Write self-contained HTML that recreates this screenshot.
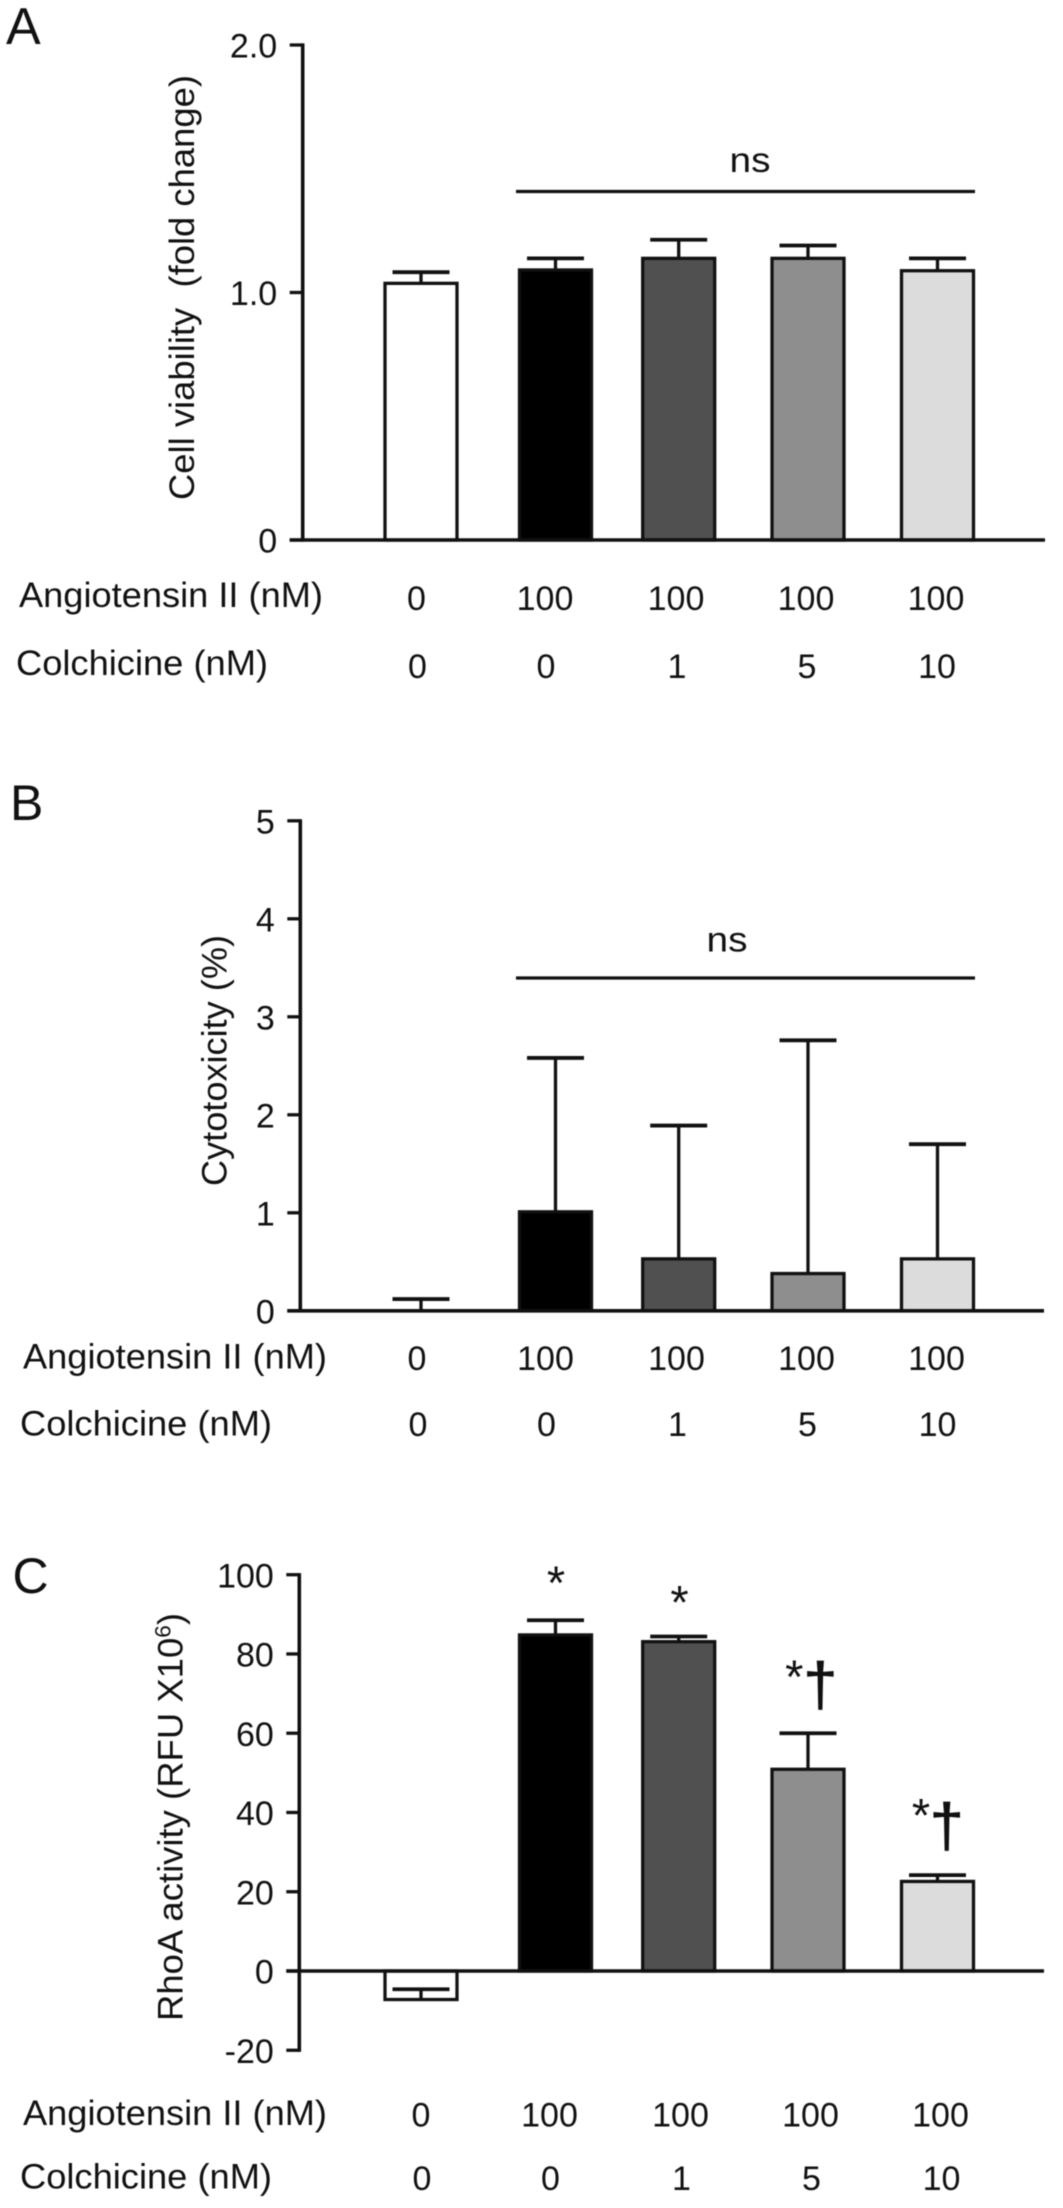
<!DOCTYPE html>
<html lang="en">
<head>
<meta charset="utf-8">
<title>Cell viability, cytotoxicity and RhoA activity</title>
<style>
html,body{margin:0;padding:0;background:#fff}
svg{display:block;filter:blur(.6px)}
text{font-family:"Liberation Sans",Arial,sans-serif;fill:#111}
</style>
</head>
<body>
<svg id="figure" xmlns="http://www.w3.org/2000/svg" width="1063" height="2208" viewBox="0 0 1063 2208"></svg>
<script>
// Shared categories
const angiotensinLabels = ["0", "100", "100", "100", "100"];
const colchicineLabels = ["0", "0", "1", "5", "10"];
const barFills = ["#ffffff", "#000000", "#505050", "#8e8e8e", "#dcdcdc"];

// Panel A
const viabilityValues = [1.037, 1.091, 1.138, 1.138, 1.088];
const viabilityErrors = [1.082, 1.138, 1.213, 1.190, 1.138];
const viabilityTicks = [0, 1, 2];
const viabilityTickLabels = ["0", "1.0", "2.0"];

// Panel B
const cytotoxicityValues = [0, 1.01, 0.53, 0.38, 0.53];
const cytotoxicityErrors = [0.12, 2.58, 1.89, 2.76, 1.70];
const cytotoxicityTicks = [0, 1, 2, 3, 4, 5];
const cytotoxicityTickLabels = ["0", "1", "2", "3", "4", "5"];

// Panel C
const rhoaValues = [-7.2, 84.8, 83.1, 50.9, 22.6];
const rhoaErrors = [-4.6, 88.5, 84.4, 60.0, 24.2];
const rhoaTicks = [-20, 0, 20, 40, 60, 80, 100];
const rhoaTickLabels = ["-20", "0", "20", "40", "60", "80", "100"];

const svg = document.getElementById("figure");
const NS = "http://www.w3.org/2000/svg";

function shape(tag, attrs, parent) {
  const el = document.createElementNS(NS, tag);
  for (const k in attrs) el.setAttribute(k, attrs[k]);
  (parent || svg).appendChild(el);
  return el;
}
function line(x1, y1, x2, y2, w, parent) {
  return shape("line", {x1, y1, x2, y2, stroke: "#111", "stroke-width": w || 3.3}, parent);
}
function label(str, x, y, size, anchor, len, parent) {
  const el = shape("text", {x, y, "font-size": size, "text-anchor": anchor || "middle"}, parent);
  el.textContent = str;
  if (len) {
    el.setAttribute("textLength", len);
    el.setAttribute("lengthAdjust", "spacingAndGlyphs");
  }
  return el;
}

// Horizontal layout of the five bars (axis function, shared by all panels)
function barCenter(i) {
  return [421, 555.5, 678.7, 808, 937.5][i];
}
function rowCenter(i, dx) {
  return [416.5, 545, 676, 806, 936][i] + dx;
}

function drawPanel(p) {
  const g = shape("g", {});
  
  

  const y = v => p.y0 + (v - p.base) * (p.yTop - p.y0) / (p.top - p.base);

  const letter = label(p.letter, p.letterX, p.letterY, p.letterSize, "start", null, g);
  
  

  // Bars
  p.values.forEach((v, i) => {
    const cx = barCenter(i);
    const rect = shape("rect", {
      x: cx - 36, y: Math.min(y(v), y(0)), width: 72, height: Math.abs(y(v) - y(0)),
      fill: barFills[i], stroke: "#111", "stroke-width": 3.3
    }, g);
    
    
  });

  // Error bars
  p.values.forEach((v, i) => {
    const cx = barCenter(i);
    const stem = line(cx, y(v), cx, y(p.errors[i]), 3.3, g);
    
    
    const cap = line(cx - 28.5, y(p.errors[i]), cx + 28.5, y(p.errors[i]), 3.8, g);
    
    
  });

  // Axes
  const yAxis = line(p.axisX, y(p.top) - 1.6, p.axisX, y(p.ticks[0]) + 1.6, 3.6, g);
  
  
  const xAxis = line(p.axisX - 13, y(0), p.axisRight, y(0), 3.6, g);
  
  

  // Ticks and tick labels
  p.ticks.forEach((t, i) => {
    const tick = line(p.axisX - 13, y(t), p.axisX, y(t), 3.3, g);
    
    
    const tl = label(p.tickLabels[i], p.axisX - 25.5, y(t) + 12.7, 34, "end", null, g);
    
    
  });

  // Y axis title
  const title = shape("text", {
    transform: `translate(${p.titleX},${p.titleY}) rotate(-90)`,
    x: 0, y: 0, "font-size": 35.5, "text-anchor": "middle",
    textLength: p.titleLen, lengthAdjust: "spacingAndGlyphs"
  }, g);
  
  
  title.textContent = p.title;
  if (p.titleSup) {
    const sup = shape("tspan", {dy: -12, "font-size": 22}, title);
    sup.textContent = p.titleSup;
    const close = shape("tspan", {dy: 12}, title);
    close.textContent = ")";
  }

  // Row labels below the axis
  const rowA = label("Angiotensin II (nM)", p.rowAX, p.rowAY, 35, "start", 304, g);
  
  
  const rowC = label("Colchicine (nM)", p.rowCX, p.rowCY, 35, "start", 252, g);
  
  
  angiotensinLabels.forEach((s, i) => {
    const t = label(s, rowCenter(i, p.rowDx), p.digitAY, 34, "middle", null, g);
    
    
  });
  colchicineLabels.forEach((s, i) => {
    const t = label(s, rowCenter(i, p.rowDx + 1), p.digitCY, 34, "middle", null, g);
    
    
  });

  // "ns" bracket
  if (p.nsY) {
    const ns = line(516, p.nsY, 975, p.nsY, 3.3, g);
    
    
    const nsText = label("ns", p.nsX, p.nsTextY, 35, "middle", 41, g);
    
    
  }
  return g;
}

drawPanel({
  name: "panel-a-cell-viability", letter: "A", letterX: 6, letterY: 44, letterSize: 52,
  values: viabilityValues, errors: viabilityErrors, ticks: viabilityTicks, tickLabels: viabilityTickLabels,
  base: 0, top: 2, y0: 540, yTop: 45, axisX: 302.7, axisRight: 1045,
  title: "Cell viability\u00a0 (fold change)", titleX: 194, titleY: 287.5, titleLen: 425,
  rowAX: 19, rowCX: 16, rowAY: 607, rowCY: 675, digitAY: 610, digitCY: 678, rowDx: 0,
  nsY: 191.5, nsX: 750, nsTextY: 172
});

drawPanel({
  name: "panel-b-cytotoxicity", letter: "B", letterX: 10, letterY: 820, letterSize: 50,
  values: cytotoxicityValues, errors: cytotoxicityErrors, ticks: cytotoxicityTicks, tickLabels: cytotoxicityTickLabels,
  base: 0, top: 5, y0: 1310.8, yTop: 820.8, axisX: 300.3, axisRight: 1044,
  title: "Cytotoxicity (%)", titleX: 226.3, titleY: 1060.5, titleLen: 251,
  rowAX: 23, rowCX: 20, rowAY: 1368.5, rowCY: 1435.5, digitAY: 1370, digitCY: 1436, rowDx: 0.5,
  nsY: 978, nsX: 727, nsTextY: 951.5
});

drawPanel({
  name: "panel-c-rhoa-activity", letter: "C", letterX: 12.5, letterY: 1593, letterSize: 50,
  values: rhoaValues, errors: rhoaErrors, ticks: rhoaTicks, tickLabels: rhoaTickLabels,
  base: 0, top: 100, y0: 1971, yTop: 1574.7, axisX: 299.3, axisRight: 1044,
  title: "RhoA activity (RFU X10", titleSup: "6", titleX: 182.3, titleY: 1817, titleLen: 408,
  rowAX: 23, rowCX: 20, rowAY: 2125, rowCY: 2188.7, digitAY: 2126.5, digitCY: 2190, rowDx: 4.5,
  nsY: 0
});

// Significance marks on panel C
const markGlyphs = ["*", "*", "*", "†", "*", "†"];
function drawMark(i) {
  const pos = [[556, 1599], [679.5, 1618.6], [794.3, 1693], [820.3, 1705.5], [921, 1831.6], [946.7, 1846.5]][i];
  const isStar = markGlyphs[i] === "*";
  const t = label(markGlyphs[i], pos[0], pos[1], isStar ? 47 : 61, "middle");
  if (!isStar) {
    t.setAttribute("stroke", "#111");
    t.setAttribute("stroke-width", "0.8");
  }
  return t;
}
markGlyphs.forEach((m, i) => {
  const t = drawMark(i);
  
  
});
</script>
</body>
</html>
